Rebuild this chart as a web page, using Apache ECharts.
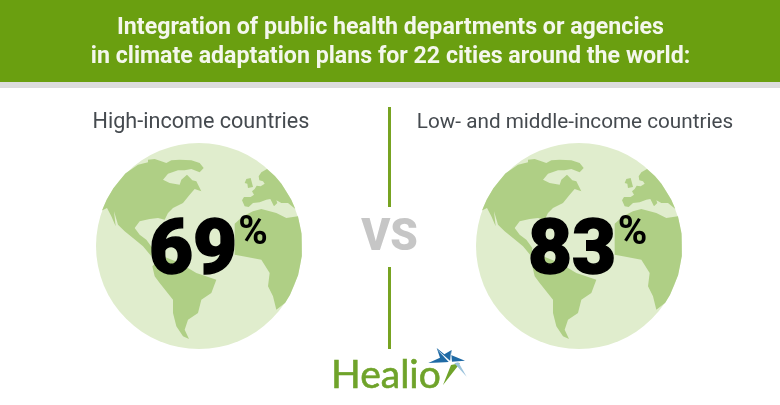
<!DOCTYPE html>
<html>
<head>
<meta charset="utf-8">
<style>
    html, body { margin: 0; padding: 0; background: #fff; }
    #main { width: 780px; height: 405px; }
</style>
<script src="https://cdn.jsdelivr.net/npm/echarts@6/dist/echarts.min.js"></script>
</head>
<body>
<div id="main"></div>
<script>
// 数据
var titleLines = ['Integration of public health departments or agencies', 'in climate adaptation plans for 22 cities around the world:'];
var groups = ['High-income countries', 'Low- and middle-income countries'];
var percents = [69, 83];
var logoText = 'Healio';

// 地球上的陆地轮廓 (相对 620x620 的地球, 圆心 358,439)
var northAmerica = [[60,330],[80,300],[100,265],[135,220],[175,195],[205,188],[205,180],[225,178],[245,185],[260,190],[275,182],[300,180],[335,182],[360,190],[372,205],[360,218],[335,208],[315,212],[295,212],[265,222],[250,240],[270,250],[300,255],[305,240],[322,225],[338,242],[350,245],[365,275],[345,268],[330,285],[310,310],[280,325],[265,340],[255,360],[235,355],[210,358],[180,365],[165,385],[180,405],[200,420],[218,445],[215,470],[190,440],[160,415],[135,395],[115,375],[103,335],[108,380],[95,350],[82,325]];
var southAmerica = [[218,500],[250,470],[300,490],[350,520],[410,540],[395,580],[365,600],[355,640],[325,660],[315,690],[328,718],[310,710],[290,680],[280,640],[280,600],[240,550],[225,530]];
var africa = [[465,372],[490,350],[520,335],[545,328],[590,340],[620,355],[655,350],[680,400],[680,470],[670,530],[640,590],[625,615],[590,630],[580,590],[565,560],[570,520],[545,480],[490,470],[465,465]];
var europe = [[562,208],[545,218],[537,230],[539,242],[550,245],[555,252],[543,260],[531,258],[525,268],[517,275],[523,285],[513,292],[493,292],[487,302],[495,320],[507,322],[520,310],[540,308],[560,300],[572,298],[583,320],[593,310],[590,302],[605,310],[625,310],[647,328],[680,330],[655,290],[615,245],[590,225]];
var britain = [[500,238],[513,235],[517,250],[520,262],[505,265],[503,252],[495,250]];
var starBlue = [[35,9],[58,28],[80,15],[78,30],[120,47],[80,50],[60,52],[10,54],[45,38]];
var starGreen = [[54,120],[78,60],[105,55]];
var starLight = [[125,95],[88,55],[100,52]];
var starRays = [[[35,12],[80,52],[74,54]], [[78,18],[81,52],[75,52]]];

var globeCenters = [[199, 246], [579, 246]];
var globeR = 103;
var green = '#6a9f10';
var land = '#afcf85';
var sea = '#e0edcd';

// 每组的文字位置和大小
var groupLabelX = [201, 575];
var groupLabelSize = [21.6, 20.7];
var numberX = [193, 572];
var percentX = [253, 632.5];

var myChart = echarts.init(document.querySelector('#main'));

// 把轮廓换算到地球坐标, 超出圆的点压回圆边
function toGlobe(points) {
    return points.map(function (p) {
        var x = p[0] - 358, y = p[1] - 439;
        var d = Math.sqrt(x * x + y * y);
        if (d > 310) {
            x = x * 310 / d;
            y = y * 310 / d;
        }
        return [x / 3, y / 3];
    });
}

function toLogo(points) {
    return points.map(function (p) { return [425 + p[0] / 3, 345 + p[1] / 3]; });
}

var elements = [];
elements.push({ type: 'rect', shape: { x: 0, y: 0, width: 780, height: 82 }, style: { fill: green } });
elements.push({ type: 'rect', shape: { x: 0, y: 82, width: 780, height: 6 }, style: { fill: '#dcdcdc' } });

titleLines.forEach(function (line, i) {
    elements.push({
        type: 'text', x: 390.5, y: 28 + i * 29,
        style: { text: line, fill: '#f4f7ec', font: 'bold 23.2px Roboto', textAlign: 'center', textVerticalAlign: 'middle' }
    });
});

groups.forEach(function (name, i) {
    var c = globeCenters[i];
    elements.push({
        type: 'text', x: groupLabelX[i], y: 123,
        style: { text: name, fill: '#454a4f', font: groupLabelSize[i] + 'px Roboto', textAlign: 'center', textVerticalAlign: 'middle' }
    });
    elements.push({ type: 'circle', shape: { cx: c[0], cy: c[1], r: globeR }, style: { fill: sea } });
    [northAmerica, southAmerica, africa, europe, britain].forEach(function (shape) {
        elements.push({
            type: 'polygon', x: c[0], y: c[1],
            shape: { points: toGlobe(shape) },
            style: { fill: land }
        });
    });
    elements.push({
        type: 'text', x: numberX[i], y: 254,
        style: { text: String(percents[i]), fill: '#000', stroke: '#000', lineWidth: 1.5, font: '900 76px Roboto', textAlign: 'center', textVerticalAlign: 'middle' }
    });
    elements.push({
        type: 'text', x: percentX[i], y: 234,
        style: { text: '%', fill: '#000', font: 'bold 40px Roboto', textAlign: 'center', textVerticalAlign: 'middle' }
    });
});

// 中间分隔线和 VS
elements.push({ type: 'rect', shape: { x: 388, y: 107, width: 3, height: 100 }, style: { fill: '#77a321' } });
elements.push({ type: 'rect', shape: { x: 388, y: 267, width: 3, height: 82 }, style: { fill: '#77a321' } });
elements.push({
    type: 'text', x: 389.5, y: 239,
    style: { text: 'VS', fill: '#c6c6c6', font: '900 44px Roboto', textAlign: 'center', textVerticalAlign: 'middle' }
});

// 标志
elements.push({
    type: 'text', x: 331, y: 375,
    style: { text: logoText, fill: '#6fa32a', stroke: '#6fa32a', lineWidth: 0.6, font: '39px Lato', textAlign: 'left', textVerticalAlign: 'middle' }
});
elements.push({ type: 'polygon', shape: { points: toLogo(starBlue) }, style: { fill: '#1f6aa5' } });
elements.push({ type: 'polygon', shape: { points: toLogo(starGreen) }, style: { fill: '#6fa32a' } });
elements.push({ type: 'polygon', shape: { points: toLogo(starLight) }, style: { fill: '#9cc3dc' } });
starRays.forEach(function (ray) {
    elements.push({ type: 'polygon', shape: { points: toLogo(ray) }, style: { fill: '#fff' } });
});

myChart.setOption({
    animation: false,
    graphic: { elements: elements }
});
</script>
</body>
</html>
